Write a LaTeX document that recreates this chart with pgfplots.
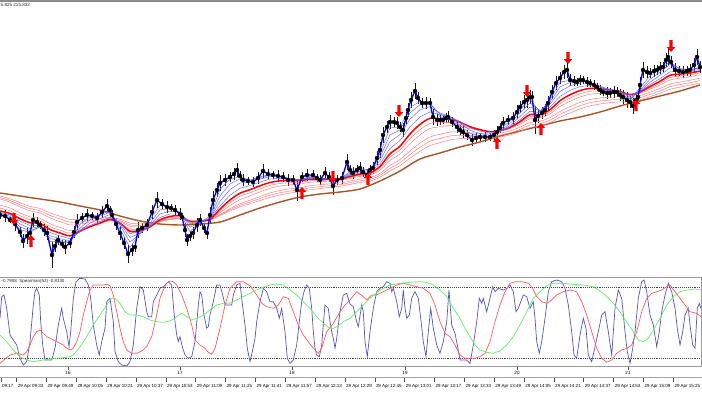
\documentclass[border=0pt]{standalone}
\usepackage{fontspec}
\setmainfont{Liberation Sans}
\usepackage{pgfplots}
\usepackage{pgfplotstable}
\pgfplotsset{compat=1.18}

\definecolor{mtblue}{RGB}{0,0,240}
\definecolor{thinblue}{RGB}{95,95,255}
\definecolor{thinred}{RGB}{255,125,125}
\definecolor{mtred}{RGB}{255,0,0}
\definecolor{mtbrown}{RGB}{165,85,40}
\definecolor{oscblue}{RGB}{85,85,185}
\definecolor{oscred}{RGB}{255,90,90}
\definecolor{oscgreen}{RGB}{100,235,100}

\pgfdeclareplotmark{uparr}{%
  \pgfpathmoveto{\pgfqpoint{0pt}{6pt}}%
  \pgfpathlineto{\pgfqpoint{4.2pt}{1.2pt}}%
  \pgfpathlineto{\pgfqpoint{1.7pt}{1.2pt}}%
  \pgfpathlineto{\pgfqpoint{1.7pt}{-6pt}}%
  \pgfpathlineto{\pgfqpoint{-1.7pt}{-6pt}}%
  \pgfpathlineto{\pgfqpoint{-1.7pt}{1.2pt}}%
  \pgfpathlineto{\pgfqpoint{-4.2pt}{1.2pt}}%
  \pgfpathclose\pgfusepathqfill}
\pgfdeclareplotmark{dnarr}{%
  \pgfpathmoveto{\pgfqpoint{0pt}{-6pt}}%
  \pgfpathlineto{\pgfqpoint{4.2pt}{-1.2pt}}%
  \pgfpathlineto{\pgfqpoint{1.7pt}{-1.2pt}}%
  \pgfpathlineto{\pgfqpoint{1.7pt}{6pt}}%
  \pgfpathlineto{\pgfqpoint{-1.7pt}{6pt}}%
  \pgfpathlineto{\pgfqpoint{-1.7pt}{-1.2pt}}%
  \pgfpathlineto{\pgfqpoint{-4.2pt}{-1.2pt}}%
  \pgfpathclose\pgfusepathqfill}

% price bars: x, centre, half range (chart pixel units, y grows downward)
\pgfplotstableread{
x c e
0 215 4
5 216 6
10 220 3
15 224 7
20 232 5
23 241 7
27 236 8
30 233 5
33 220 7
37 222 5
40 225 4
44 230 6
47 233 7
52 255 13
55 246 6
58 240 5
62 244 4
65 247 7
70 243 5
74 232 6
77 222 8
82 218 5
87 215 6
92 216 4
97 218 5
102 212 6
107 206 7
110 210 4
112 215 5
116 224 6
120 233 7
124 243 6
128 254 9
132 250 6
135 247 5
138 230 8
142 228 5
147 225 6
152 212 7
157 200 8
162 204 5
167 207 6
171 208 4
175 210 5
180 214 6
182 217 4
185 230 7
187 240 6
190 236 5
193 233 6
197 225 7
200 220 6
204 228 5
207 233 6
210 215 8
213 200 9
217 190 7
220 183 8
225 180 6
230 177 5
234 174 6
237 170 7
240 176 5
243 180 6
248 181 4
253 182 5
258 178 6
263 171 7
268 174 5
273 175 4
278 176 6
283 177 5
288 180 6
293 180 5
297 190 11
302 177 5
307 175 6
313 175 5
317 178 4
320 180 5
325 173 6
329 177 5
333 186 9
337 180 5
342 178 6
347 162 8
350 170 5
353 173 6
357 170 5
360 168 6
363 172 5
367 175 6
370 170 5
373 168 6
377 158 7
380 150 8
383 135 8
387 127 6
390 122 7
394 122 5
397 123 6
400 127 5
403 130 7
406 118 6
408 110 7
411 100 8
415 91 8
418 98 6
422 103 5
426 103 6
430 103 5
433 117 8
437 120 6
440 120 5
443 120 4
446 118 5
448 117 6
452 122 5
457 127 6
460 130 5
463 132 6
467 135 5
472 140 6
476 138 5
480 137 4
485 137 5
490 137 4
494 135 5
497 132 6
500 128 5
503 123 6
508 120 5
513 118 6
517 112 7
520 107 6
524 102 7
527 100 8
530 97 7
532 97 6
535 120 14
538 116 7
542 113 6
545 110 6
548 103 7
552 92 7
556 83 7
560 78 6
564 72 7
567 70 8
570 80 6
574 81 5
577 82 4
580 80 5
583 80 4
587 82 5
590 83 4
594 85 5
597 87 4
600 90 5
603 92 4
607 93 6
610 93 5
614 92 6
617 92 5
620 95 6
623 97 7
627 100 8
630 102 6
633 106 8
636 100 6
638 97 5
640 85 8
643 70 8
647 72 6
650 73 5
654 71 6
657 70 5
660 68 6
663 67 5
666 60 7
668 57 8
671 62 6
675 70 7
679 71 5
683 72 6
687 71 5
690 70 6
694 65 7
697 57 8
700 67 6
}\candles

% moving-average ribbons
\pgfplotstableread{
x e6 e10 e15 e22 e30 r38 e45 e60 r70 e80
0 215 214 213 212 211 208 205 199 197.5 196
10 219.1 217.8 216.4 214.9 213.5 210.8 208.0 202.2 200.5 198.8
20 229.6 226.8 224.0 221.2 218.7 215.8 212.8 206.8 204.8 202.7
30 232.4 230.7 228.4 225.5 222.7 219.8 216.8 210.8 208.6 206.3
40 226.4 227.1 226.7 225.3 223.4 220.9 218.4 213.0 210.8 208.5
50 241.5 238.4 235.6 232.5 229.5 226.6 223.7 217.9 215.4 212.8
60 241.9 240.7 238.7 236.0 233.0 230.2 227.4 221.6 218.9 216.2
70 242.8 242.2 240.8 238.6 235.8 233.2 230.5 224.9 222.2 219.4
80 224.2 228.1 230.7 231.8 231.3 229.9 228.4 224.1 221.8 219.5
90 216.7 219.8 223.1 225.7 226.7 226.2 225.7 222.7 220.9 219.0
100 214.5 216.1 218.7 221.4 223.1 223.3 223.4 221.4 219.9 218.4
110 210.8 212.2 214.5 217.2 219.4 220.1 220.7 219.6 218.5 217.4
120 228.9 225.4 223.5 223.0 223.2 223.2 223.2 221.7 220.5 219.2
130 247.7 242.2 237.4 233.6 231.4 230.2 229.0 226.4 224.8 223.1
140 232.5 233.8 233.3 231.9 230.7 229.9 229.0 226.8 225.3 223.8
150 219.9 223.2 225.4 226.4 226.8 226.7 226.6 225.3 224.2 223.0
160 205.3 209.8 214.0 217.5 219.8 220.8 221.7 221.7 221.1 220.5
170 207.5 208.7 211.1 214.0 216.5 217.8 219.0 219.6 219.3 219.0
180 212.8 212.1 212.5 214.0 215.8 216.9 218.0 218.7 218.6 218.4
190 231.7 227.2 223.9 222.1 221.5 221.6 221.6 221.4 221.0 220.5
200 222.2 222.6 222.0 221.3 221.1 221.2 221.3 221.2 220.8 220.4
210 216.3 217.8 218.6 219.0 219.4 219.7 220.0 220.2 220.0 219.8
220 189.2 195.8 201.3 205.8 209.1 210.9 212.6 214.5 215.0 215.5
230 179.3 183.9 189.5 195.3 200.0 202.8 205.5 208.7 209.9 211.0
240 176.6 178.9 182.9 188.2 193.2 196.4 199.6 203.7 205.3 206.9
250 180.2 180.2 182.0 185.6 189.7 192.8 195.9 200.2 202.0 203.8
260 176.8 177.5 179.1 182.1 185.8 188.9 191.9 196.5 198.5 200.5
270 174.5 175.3 176.6 179.1 182.5 185.4 188.3 193.0 195.2 197.4
280 176.5 176.4 176.8 178.3 180.9 183.5 186.0 190.5 192.8 195.0
290 179.3 178.7 178.4 178.9 180.6 182.7 184.8 188.9 191.1 193.2
300 180.7 180.2 179.7 179.7 180.7 182.4 184.0 187.7 189.8 191.8
310 176.1 176.9 177.4 178.0 179.1 180.7 182.2 185.7 187.8 189.8
320 179.3 178.9 178.7 178.7 179.4 180.6 181.8 184.8 186.7 188.6
330 178.2 178.3 178.4 178.4 179.0 180.0 181.0 183.8 185.6 187.3
340 178.9 178.7 178.7 178.6 179.0 179.8 180.6 183.1 184.7 186.3
350 171.7 173.2 174.5 175.5 176.5 177.5 178.5 181.1 182.8 184.4
360 168.7 169.9 171.3 172.8 174.1 175.3 176.4 179.1 180.8 182.5
370 169.8 170.0 170.7 171.8 172.9 174.0 175.1 177.7 179.4 181.0
380 153.7 157.3 160.6 163.8 166.4 168.3 170.1 173.4 175.4 177.3
390 127.9 135.0 141.8 148.5 153.8 157.2 160.5 165.5 168.2 170.8
400 127.2 129.9 134.6 140.6 146.2 150.0 153.8 159.6 162.6 165.6
410 107.5 112.9 119.2 126.8 134.0 138.8 143.6 150.9 154.6 158.2
420 101.4 104.7 109.8 117.0 124.4 129.7 134.9 143.1 147.2 151.3
430 102.7 103.6 106.5 111.9 118.3 123.4 128.5 136.9 141.3 145.6
440 116.8 114.0 113.1 114.9 118.8 122.8 126.8 134.3 138.5 142.6
450 119.4 117.8 116.5 116.8 119.1 122.3 125.4 132.1 136.0 139.9
460 128.0 125.5 123.1 121.6 122.2 124.3 126.3 131.8 135.3 138.7
470 136.1 133.4 130.4 127.6 126.7 127.7 128.6 132.8 135.7 138.6
480 136.8 135.7 133.6 131.0 129.6 130.0 130.3 133.4 135.9 138.4
490 137.0 136.5 135.3 133.2 131.7 131.7 131.6 134.0 136.1 138.2
500 129.7 131.1 131.7 131.3 130.7 130.8 130.9 133.1 135.1 137.0
510 121.0 123.4 125.5 126.8 127.4 128.0 128.5 130.9 132.9 134.9
520 109.6 113.0 116.5 119.6 121.6 122.9 124.2 127.2 129.4 131.6
530 99.3 102.9 107.0 111.3 114.6 116.7 118.8 122.5 125.0 127.5
540 112.1 110.6 110.9 112.7 114.7 116.4 118.0 121.3 123.7 126.0
550 99.8 102.0 104.1 107.0 109.7 111.8 113.8 117.6 120.1 122.6
560 82.1 86.8 91.4 96.4 100.7 103.7 106.6 111.5 114.4 117.3
570 80.4 82.5 85.8 90.4 94.8 98.1 101.3 106.6 109.8 112.9
580 80.1 80.9 83.0 86.6 90.6 93.8 97.0 102.5 105.8 109.0
590 82.5 82.2 83.0 85.3 88.4 91.3 94.2 99.5 102.7 105.9
600 88.6 87.1 86.4 87.0 88.9 91.2 93.4 98.0 101.0 104.0
610 92.2 90.8 89.6 89.2 90.1 91.7 93.3 97.2 100.0 102.7
620 94.5 93.5 92.2 91.3 91.5 92.6 93.6 96.9 99.4 101.8
630 100.6 98.9 97.0 95.2 94.5 94.9 95.3 97.7 99.8 101.8
640 87.9 90.1 91.2 91.5 91.8 92.5 93.2 95.7 97.8 99.8
650 75.8 79.3 82.3 84.7 86.5 87.9 89.2 92.2 94.4 96.6
660 69.5 72.1 75.3 78.6 81.3 83.2 85.0 88.5 90.9 93.2
670 61.8 64.4 67.8 71.8 75.3 77.7 80.0 84.1 86.7 89.3
680 69.3 68.6 69.4 71.5 74.1 76.2 78.2 82.1 84.6 87.1
690 69.9 69.5 69.7 71.0 72.9 74.8 76.6 80.2 82.7 85.1
700 67.5 67.9 68.4 69.5 71.2 73.0 74.7 78.2 80.6 83.0
}\mas

\pgfplotstableread{
x y
0 193
20 196
40 199
60 202
80 206
100 210
120 216
140 221
160 224
180 225
200 224
220 222
240 215
260 208
280 202
300 197
320 194
340 192
360 189
380 181
400 171
420 159
440 153
460 147
480 142
500 136
520 131
540 126
560 121
580 117
600 112
620 106
640 101
660 96
680 91
700 85
}\brown

% oscillator lines (panel pixel units, y grows downward)
\pgfplotstableread{
x y
0 318.3
1.7 296.7
4 295
6.7 308.3
10 335
13.3 340
16.7 345
20 358.3
23.3 365
26.7 361.7
30 341.7
33.3 305
35 291.7
36.7 288.3
39.3 295
40.7 321.7
42.7 345
45 360
48.3 360
51.7 360
55 348.3
58.3 325
61.7 308.3
63.3 318.3
66.7 331.7
69 346.7
70.7 331.7
73.3 298.3
76 281.7
80 278.3
85 279
88.3 285
90.7 298.3
93.3 325
96.7 345
99.3 355
101.7 341.7
105 328.3
106.7 301.7
110 298.3
113.3 321.7
115 351.7
118.3 361.7
121.7 365
126.7 366
130 361.7
133.3 345
136.7 308.3
140 286.7
143.3 290
146.7 311.7
148.3 316.7
151.7 316.7
153.3 301.7
156.7 295
160 288.3
163.3 286.7
168.3 281.7
171.7 285
173.3 305
175 321.7
176.7 335
178.3 341.7
180 336.7
182.7 348.3
185 355
188.3 358.3
191.7 356.7
195 341.7
198.3 305
200 291.7
201.7 295
204 315
206.7 328.3
208.3 326.7
210 315
213.3 301.7
216.7 285
220 285
222.7 295
225 305
228.3 305
231.7 305
233.3 295
236.7 285
240 283.3
241.7 298.3
245 325
247.3 348.3
250 361.7
252.3 351.7
255 338.3
256.7 321.7
260 301.7
263.3 288.3
266.7 291.7
270 301.7
273.3 301.7
276.7 308.3
279.3 318.3
281.7 308.3
285 331.7
287.3 358.3
290 363.3
293.3 360
296.7 345
299.3 321.7
301.7 301.7
304 291.7
306.7 285
309.3 288.3
311.7 308.3
313.3 331.7
315 348.3
316.7 355
319.3 356.7
321.7 345
323.3 325
325 305
328.3 308.3
330 321.7
331.7 331.7
333.3 338.3
335 348.3
336.7 338.3
340 311.7
343.3 295
346.7 293.3
350 304
353.3 306.7
356.7 321.7
358.3 326.7
361.7 305
363.3 311.7
365 341.7
367.3 356.7
370 331.7
373.3 308.3
376.7 291.7
380 288.3
383.3 286.7
386.7 281.7
390 283.3
391.7 291.7
393.3 288.3
396.7 301.7
399.3 316.7
401.7 308.3
403.3 290
405 308.3
406.7 318.3
409.3 315
411.7 298.3
415 291.7
418.3 298.3
420.7 318.3
423.3 341.7
426 356.7
428.3 331.7
430.7 308.3
433.3 328.3
436.7 345
440 353.3
443.3 341.7
446.7 321.7
449 290
451.7 325
455 333.3
457.3 345
460 360
463.3 360
466.7 360
470 363.3
473.3 345
476.7 321.7
479.3 298.3
481.7 303.3
483.3 298.3
486.7 311.7
490 298.3
492.7 286.7
495 291.7
498.3 288.3
503.3 290
506.7 288.3
510 285
513.3 291.7
516 311.7
518.3 308.3
520.7 301.7
523.3 295
526.7 296.7
530 308.3
533.3 301.7
535 318.3
536.7 341.7
539.3 353.3
541.7 341.7
545 318.3
548.3 291.7
551.7 281.7
556.7 280
561.7 281.7
565 288.3
568.3 305
571.7 331.7
574 355
576.7 358.3
580 335
583.3 318.3
586 328.3
588.3 355
591.7 361.7
595 346.7
598.3 331.7
601.7 315
605 311.7
608.3 331.7
611.7 355
615 308.3
618.3 290
621.7 298.3
625 331.7
627.3 351.7
630 363.3
632.7 348.3
635 331.7
638.3 298.3
641.7 281.7
644 280
646.7 291.7
650 315
653.3 325
656.7 346.7
659.3 331.7
661.7 311.7
665 295
668.3 283.3
671.7 291.7
675 308.3
677.3 328.3
680 345
682.7 331.7
685 315
688.3 308.3
690 325
692.7 345
695 348.3
697.3 308.3
699.3 303.3
700.7 308.3
}\oscblue

\pgfplotstableread{
x y
0 363.3
10 355
16.7 353.3
23.3 355
26.7 351.7
30 345
33.3 336.7
36.7 331.7
40 330
43.3 333.3
46.7 336.7
50 338.3
53.3 340
56.7 341.7
60 343.3
63.3 345
66.7 348.3
70 350
73.3 348.3
76.7 341.7
80 331.7
83.3 315
86.7 301.7
90 290
93.3 285
98.3 285
103.3 285
106.7 284.3
110 285.7
113.3 295
116.7 311.7
120 328.3
123.3 341.7
126.7 350
131.7 353.3
136.7 353.3
141.7 351
146.7 346.7
151.7 336.7
156.7 315
160 298.3
163.3 290
166.7 283.3
170 281
173.3 281.7
176.7 285
181.7 295
186.7 308.3
191.7 325
195 340
200 345
205 348.3
208.3 352.3
211.7 354.3
215 348.3
220 328.3
225 305
230 288.3
236.7 281.7
243.3 281.7
250 285.7
256.7 295
261.7 303.3
266.7 306.7
273.3 308.3
278.3 305
283.3 296.7
288.3 298.3
293.3 311.7
298.3 325
303.3 335
308.3 341.7
313.3 348.3
318.3 353.3
321.7 348.3
326.7 331.7
333.3 323.3
340 311.7
345 305
350 300
356.7 291.7
363.3 296.7
366.7 300
371.7 295
376.7 295
383.3 291.7
390 288.3
396.7 285
403.3 283.3
410 285
416.7 286.7
423.3 288.3
430 293.3
435 305
440 321.7
445 333.3
450 336.7
455 345
460 355
465 358.3
470 358.3
475 358.3
480 356.7
485 353.3
490 341.7
495 321.7
500 305
505 291.7
510 283.3
515 281.7
521.7 281.7
528.3 283.3
532.7 288.3
536.7 296.7
541.7 301.7
546.7 303.3
551.7 300
556.7 295
563.3 291.7
570 290
576.7 291.7
581.7 301.7
586.7 315
591.7 331.7
596.7 348.3
601.7 358.3
606.7 362.3
611.7 360
616.7 353.3
621.7 350
626.7 348.3
631.7 345
636.7 331.7
641.7 311.7
646.7 298.3
651.7 293.3
656.7 291.7
661.7 290
666.7 286.7
670 285
675 291.7
680 298.3
685 305
690 311.7
696.7 313.3
700.7 316.7
}\oscred

\pgfplotstableread{
x y
0 335
6.7 341.7
13.3 350
20 356.7
26.7 360
33.3 361.7
43.3 360
53.3 358.3
63.3 357.7
70 356.7
75 353.3
80 346.7
86.7 336.7
93.3 325
100 315
106.7 305
111.7 298.3
115 298.3
120 303.3
125 311.7
130 315
136.7 315
143.3 316.7
150 320
156.7 321.7
163.3 322.3
170 321
176.7 316.7
181.7 313.3
186.7 316.7
191.7 320
196.7 318.3
203.3 315
210 310
216.7 305
223.3 303.3
230 303.3
236.7 300
243.3 296.7
250 293.3
256.7 290
263.3 287.3
270 285
276.7 284
283.3 285
290 290
296.7 295
303.3 301.7
310 308.3
316.7 316.7
323.3 323.3
330 328.3
333.3 328.3
336.7 326.7
343.3 321.7
350 318.3
360 308.3
370 298.3
380 290
390 285
400 283.3
410 282.3
420 281.7
426.7 282.3
433.3 285
440 290
446.7 296.7
453.3 308.3
460 318.3
465 328.3
470 336.7
475 345
480 350
486.7 352.3
493.3 353.3
500 351
506.7 345
513.3 336.7
520 325
526.7 311.7
533.3 298.3
540 291.7
546.7 285.7
553.3 283.3
563.3 283.3
573.3 284.3
583.3 285
593.3 286.7
603.3 293.3
613.3 303.3
620 311.7
626.7 321.7
633.3 331.7
638.3 340
643.3 341.7
648.3 338.3
653.3 330
660 318.3
666.7 305
673.3 296.7
680 291.7
686.7 290
695 289
700.7 290
}\oscgreen

\begin{document}
\begin{tikzpicture}
\useasboundingbox (0,0) rectangle (702bp,395bp);

% ---------------- price panel ----------------
\begin{axis}[
  at={(0,118bp)}, anchor=south west,
  width=702bp, height=277bp, scale only axis,
  xmin=0, xmax=702, ymin=0, ymax=277, y dir=reverse,
  hide axis,
]
\draw[black!45, line width=2bp] (axis cs:0,1) -- (axis cs:702,1);
\addplot[black, only marks, mark=none,
  error bars/.cd, y dir=both, y explicit, error mark=none,
  error bar style={black!90, line width=0.9bp}]
  table[x=x, y=c, y error=e] {\candles};
\addplot[mtbrown, line width=1.4bp, smooth] table[x=x, y=y] {\brown};
\addplot[thinred, line width=0.5bp, smooth] table[x=x, y=e80] {\mas};
\addplot[thinred, line width=0.5bp, smooth] table[x=x, y=r70] {\mas};
\addplot[thinred, line width=0.5bp, smooth] table[x=x, y=e60] {\mas};
\addplot[thinred, line width=0.5bp, smooth] table[x=x, y=e45] {\mas};
\addplot[thinred, line width=0.5bp, smooth] table[x=x, y=r38] {\mas};
\addplot[mtred, line width=1.5bp, smooth] table[x=x, y=e30] {\mas};
\addplot[thinblue, line width=0.45bp] table[x=x, y=e22] {\mas};
\addplot[thinblue, line width=0.45bp] table[x=x, y=e15] {\mas};
\addplot[thinblue, line width=0.45bp] table[x=x, y=e10] {\mas};
\addplot[thinblue, line width=0.45bp] table[x=x, y=e6] {\mas};
\addplot[mtblue, line width=1.3bp] table[x=x, y=c] {\candles};
\addplot[mtred, only marks, mark=uparr] coordinates {
  (31,241) (302,193) (368,179) (497,143) (541,129) (636,105)};
\addplot[mtred, only marks, mark=dnarr] coordinates {
  (14,219) (333,177) (399,111) (527,91) (568,58) (671,46)};
\node[anchor=west, inner sep=0pt, font=\fontsize{4.6}{5}\selectfont, text=black!85]
  at (axis cs:0.5,5) {5.825 215.832};
\end{axis}

% ---------------- oscillator panel ----------------
\begin{axis}[
  at={(0,28bp)}, anchor=south west,
  width=702bp, height=90bp, scale only axis,
  xmin=0, xmax=702, ymin=277, ymax=367, y dir=reverse,
  hide axis, clip=false,
]
\draw[black!75, line width=0.5bp, dash pattern=on 0.8bp off 1.1bp] (axis cs:0,287) -- (axis cs:700,287);
\draw[black!75, line width=0.5bp, dash pattern=on 0.8bp off 1.1bp] (axis cs:0,358) -- (axis cs:700,358);
\addplot[oscblue, line width=0.7bp] table[x=x, y=y] {\oscblue};
\addplot[oscred, line width=0.7bp] table[x=x, y=y] {\oscred};
\addplot[oscgreen, line width=0.7bp] table[x=x, y=y] {\oscgreen};
\draw[black!40, line width=1.5bp] (axis cs:0,277.6) -- (axis cs:702,277.6);
\draw[black!40, line width=1.2bp] (axis cs:0,366.8) -- (axis cs:701.5,366.8);
\draw[black!40, line width=1bp] (axis cs:701.2,277) -- (axis cs:701.2,367.4);
\pgfplotsinvokeforeach{68,180,292,405,517,628}{
  \draw[black!70, line width=0.4bp] (axis cs:#1,367.4) -- (axis cs:#1,369.5);
}
\node[inner sep=0pt, font=\fontsize{4.6}{5}\selectfont] at (axis cs:68,372.5) {16};
\node[inner sep=0pt, font=\fontsize{4.6}{5}\selectfont] at (axis cs:180,372.5) {17};
\node[inner sep=0pt, font=\fontsize{4.6}{5}\selectfont] at (axis cs:292,372.5) {18};
\node[inner sep=0pt, font=\fontsize{4.6}{5}\selectfont] at (axis cs:405,372.5) {19};
\node[inner sep=0pt, font=\fontsize{4.6}{5}\selectfont] at (axis cs:517,372.5) {20};
\node[inner sep=0pt, font=\fontsize{4.6}{5}\selectfont] at (axis cs:628,372.5) {21};
\node[anchor=west, inner sep=0pt, font=\fontsize{4.5}{5}\selectfont, text=black!85]
  at (axis cs:1.5,281.8) {-0.7908\ \ Spearman(52) -0.8130};
\end{axis}

% ---------------- time scale ----------------
\begin{axis}[
  at={(0,18bp)}, anchor=south west,
  width=702bp, height=2bp, scale only axis,
  xmin=0, xmax=702, ymin=0, ymax=1,
  axis x line*=bottom, axis y line=none,
  x axis line style={-, draw=black!35, line width=0.8bp},
  xtick={0.8,16.5,46.35,76.2,106.05,135.9,165.75,195.6,225.45,255.3,285.15,315,344.85,374.7,404.55,434.4,464.25,494.1,523.95,553.8,583.65,613.5,643.35,673.2},
  xticklabels={09:17,29 Apr 09:33,29 Apr 09:49,29 Apr 10:05,29 Apr 10:21,29 Apr 10:37,29 Apr 10:53,29 Apr 11:09,29 Apr 11:25,29 Apr 11:41,29 Apr 11:57,29 Apr 12:13,29 Apr 12:29,29 Apr 12:45,29 Apr 13:01,29 Apr 13:17,29 Apr 13:33,29 Apr 13:49,29 Apr 14:05,29 Apr 14:21,29 Apr 14:37,29 Apr 14:53,29 Apr 15:09,29 Apr 15:25},
  tick align=outside, major tick length=5bp,
  xtick style={black!70, line width=0.4bp},
  xticklabel style={anchor=north west, font=\fontsize{4.5}{5}\selectfont, xshift=0.6bp, yshift=-1.5bp, inner sep=0.5bp},
]
\addplot[draw=none] coordinates {(0,0) (702,0)};
\end{axis}
\end{tikzpicture}
\end{document}
